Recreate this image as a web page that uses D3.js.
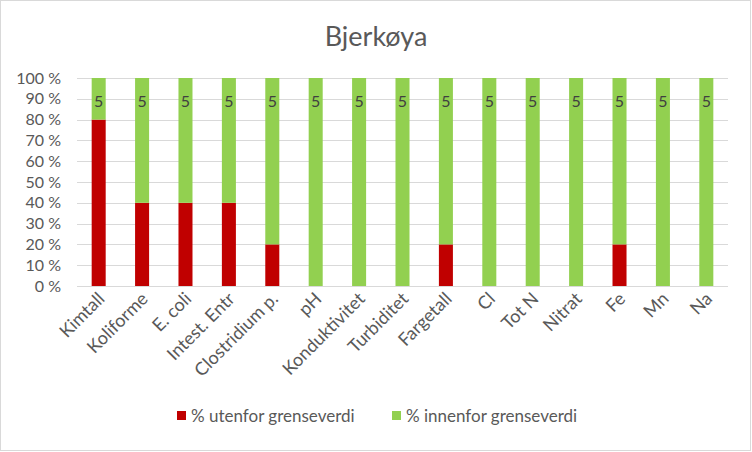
<!DOCTYPE html>
<html>
<head>
<meta charset="utf-8">
<script src="https://cdn.jsdelivr.net/npm/d3@7"></script>
<style>
  body { margin: 0; background: #fff; }
  text { font-family: Lato, "Open Sans", sans-serif; }
</style>
</head>
<body>
<div class="chart"></div>
<script>
// data
var categories = ["Kimtall", "Koliforme", "E. coli", "Intest. Entr", "Clostridium p.", "pH",
    "Konduktivitet", "Turbiditet", "Fargetall", "Cl", "Tot N", "Nitrat", "Fe", "Mn", "Na"];
var utenfor = [80, 40, 40, 40, 20, 0, 0, 0, 20, 0, 0, 0, 20, 0, 0];
var innenfor = [20, 60, 60, 60, 80, 100, 100, 100, 80, 100, 100, 100, 80, 100, 100];
var antall = [5, 5, 5, 5, 5, 5, 5, 5, 5, 5, 5, 5, 5, 5, 5];
var seriesNames = ["% utenfor grenseverdi", "% innenfor grenseverdi"];
var yTicks = [0, 10, 20, 30, 40, 50, 60, 70, 80, 90, 100];

var colors = ["#c00000", "#92d050"];
var W = 752, H = 452;
var plotLeft = 77, plotRight = 728, plotTop = 78, plotBottom = 286;

var svg = d3.select(".chart").append("svg")
    .attr("width", W)
    .attr("height", H);

svg.append("rect")
    .attr("x", 0.5).attr("y", 0.5)
    .attr("width", W - 2).attr("height", H - 2)
    .attr("fill", "#fff")
    .attr("stroke", "#d9d9d9");

var x = d3.scaleBand().domain(categories).range([plotLeft, plotRight]).paddingInner(0.677).paddingOuter(0.338);
var y = d3.scaleLinear().domain([0, 100]).range([plotBottom, plotTop]);

// gridlines
svg.selectAll(".grid")
    .data(yTicks)
    .enter().append("line")
    .attr("x1", plotLeft).attr("x2", plotRight)
    .attr("y1", d => Math.round(y(d)) + 0.5)
    .attr("y2", d => Math.round(y(d)) + 0.5)
    .attr("stroke", "#d9d9d9");

// y labels
svg.selectAll(".ylab")
    .data(yTicks)
    .enter().append("text")
    .attr("x", 61)
    .attr("y", d => y(d) + 5.5)
    .attr("text-anchor", "end")
    .attr("font-size", 16)
    .attr("fill", "#595959")
    .text(d => d + "\u00a0%");

// stacked bars
var stack = categories.map((c, i) => ({ cat: c, a: utenfor[i], b: innenfor[i], n: antall[i] }));

svg.selectAll(".red")
    .data(stack)
    .enter().append("rect")
    .attr("x", d => x(d.cat))
    .attr("width", x.bandwidth())
    .attr("y", d => y(d.a))
    .attr("height", d => y(0) - y(d.a))
    .attr("fill", colors[0]);

svg.selectAll(".green")
    .data(stack)
    .enter().append("rect")
    .attr("x", d => x(d.cat))
    .attr("width", x.bandwidth())
    .attr("y", d => y(d.a + d.b))
    .attr("height", d => y(d.a) - y(d.a + d.b))
    .attr("fill", colors[1]);

svg.selectAll(".lab")
    .data(stack)
    .enter().append("text")
    .attr("x", d => x(d.cat) + x.bandwidth() / 2)
    .attr("y", y(100) + 29)
    .attr("text-anchor", "middle")
    .attr("font-size", 16)
    .attr("fill", "#404040")
    .text(d => d.n);

// x labels
svg.selectAll(".xlab")
    .data(categories)
    .enter().append("text")
    .attr("text-anchor", "end")
    .attr("font-size", 18)
    .attr("fill", "#595959")
    .attr("transform", d => "translate(" + (x(d) + x.bandwidth() / 2 + 7) + "," + (plotBottom + 14) + ") rotate(-45)")
    .text(d => d);

// title
svg.append("text")
    .attr("x", 376).attr("y", 46)
    .attr("text-anchor", "middle")
    .attr("font-size", 27)
    .attr("fill", "#595959")
    .text("Bjerkøya");

// legend
var legX = [177, 392];
seriesNames.forEach((s, i) => {
    svg.append("rect")
        .attr("x", legX[i]).attr("y", 411)
        .attr("width", 9).attr("height", 9)
        .attr("fill", colors[i]);
    svg.append("text")
        .attr("x", legX[i] + 14).attr("y", 422)
        .attr("font-size", 17)
        .attr("fill", "#595959")
        .text(s);
});
</script>
</body>
</html>
